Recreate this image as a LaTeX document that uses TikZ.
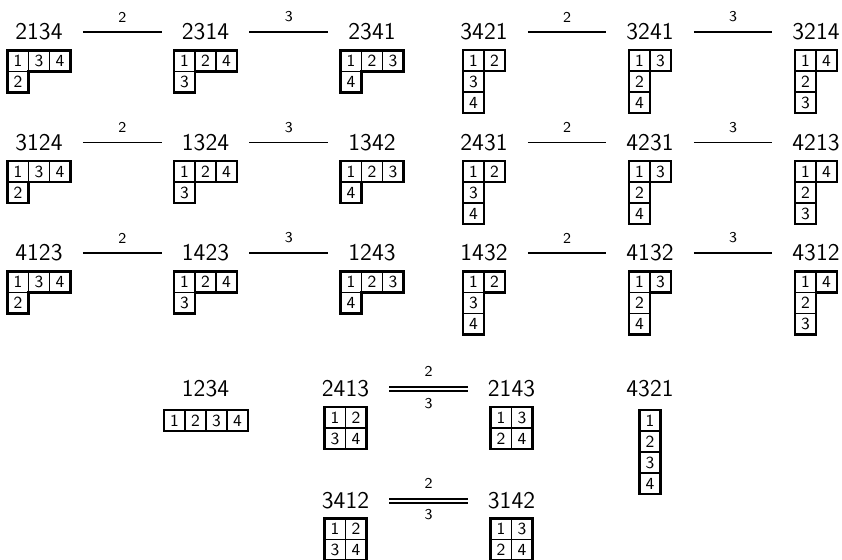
\documentclass[tikz,border=0pt]{standalone}
\tikzset{
  lab/.style={font=\sffamily\fontsize{12}{12}\selectfont, inner xsep=10pt, inner ysep=0pt},
  ycell/.style={draw, line width=0.7pt, minimum width=10.5pt, minimum height=10.5pt, inner sep=0pt, font=\sffamily\fontsize{8.5}{8.5}\selectfont},
  yout/.style={line width=1.3pt, line join=miter},
  edge/.style={line width=0.95pt},
  dedge/.style={line width=0.65pt, double, double distance=1.4pt},
  elab/.style={font=\sffamily\fontsize{7.5}{7.5}\selectfont, inner sep=0pt},
  pics/tA/.style n args={4}{code={
    \node[ycell] (-a) at (10.5,10.5) {#1};
    \node[ycell] (-b) at (31.5,10.5) {#2};
    \node[ycell] (-c) at (52.5,10.5) {#3};
    \node[ycell] (-d) at (10.5,31.5) {#4};
    \draw[yout] (0,0) -- (63,0) -- (63,21) -- (21,21) -- (21,42) -- (0,42) -- cycle;
  }},
  pics/tB/.style n args={4}{code={
    \node[ycell] (-a) at (10.5,10.5) {#1};
    \node[ycell] (-b) at (31.5,10.5) {#2};
    \node[ycell] (-c) at (10.5,31.5) {#3};
    \node[ycell] (-d) at (10.5,52.5) {#4};
    \draw[yout] (0,0) -- (42,0) -- (42,21) -- (21,21) -- (21,63) -- (0,63) -- cycle;
  }},
  pics/tC/.style n args={4}{code={
    \node[ycell] (-a) at (10.5,10.5) {#1};
    \node[ycell] (-b) at (31.5,10.5) {#2};
    \node[ycell] (-c) at (52.5,10.5) {#3};
    \node[ycell] (-d) at (73.5,10.5) {#4};
    \draw[yout] (0,0) rectangle (84,21);
  }},
  pics/tD/.style n args={4}{code={
    \node[ycell] (-a) at (10.5,10.5) {#1};
    \node[ycell] (-b) at (10.5,31.5) {#2};
    \node[ycell] (-c) at (10.5,52.5) {#3};
    \node[ycell] (-d) at (10.5,73.5) {#4};
    \draw[yout] (0,0) rectangle (21,84);
  }},
  pics/tE/.style n args={4}{code={
    \node[ycell] (-a) at (10.5,10.5) {#1};
    \node[ycell] (-b) at (31.5,10.5) {#2};
    \node[ycell] (-c) at (10.5,31.5) {#3};
    \node[ycell] (-d) at (31.5,31.5) {#4};
    \draw[yout] (0,0) rectangle (42,42);
  }},
}
\begin{document}
\begin{tikzpicture}[x=0.5pt, y=-0.5pt]
\useasboundingbox (0,0) rectangle (842,559);

% ---------- left block ----------
% row 1
\node[lab] (p2134) at (39,32) {2134};
\node[lab] (p2314) at (205.5,32) {2314};
\node[lab] (p2341) at (372,32) {2341};
\pic (t2134) at (7.5,50.5) {tA={1}{3}{4}{2}};
\pic (t2314) at (174,50.5) {tA={1}{2}{4}{3}};
\pic (t2341) at (340.5,50.5) {tA={1}{2}{3}{4}};
\draw[edge] (p2134) -- node[elab, yshift=7.5pt] {2} (p2314);
\draw[edge] (p2314) -- node[elab, yshift=7.5pt] {3} (p2341);
% row 2
\node[lab] (p3124) at (39,142.5) {3124};
\node[lab] (p1324) at (205.5,142.5) {1324};
\node[lab] (p1342) at (372,142.5) {1342};
\pic (t3124) at (7.5,161) {tA={1}{3}{4}{2}};
\pic (t1324) at (174,161) {tA={1}{2}{4}{3}};
\pic (t1342) at (340.5,161) {tA={1}{2}{3}{4}};
\draw[edge] (p3124) -- node[elab, yshift=7.5pt] {2} (p1324);
\draw[edge] (p1324) -- node[elab, yshift=7.5pt] {3} (p1342);
% row 3
\node[lab] (p4123) at (39,253) {4123};
\node[lab] (p1423) at (205.5,253) {1423};
\node[lab] (p1243) at (372,253) {1243};
\pic (t4123) at (7.5,271.5) {tA={1}{3}{4}{2}};
\pic (t1423) at (174,271.5) {tA={1}{2}{4}{3}};
\pic (t1243) at (340.5,271.5) {tA={1}{2}{3}{4}};
\draw[edge] (p4123) -- node[elab, yshift=7.5pt] {2} (p1423);
\draw[edge] (p1423) -- node[elab, yshift=7.5pt] {3} (p1243);

% ---------- right block ----------
% row 1
\node[lab] (p3421) at (484,32) {3421};
\node[lab] (p3241) at (650,32) {3241};
\node[lab] (p3214) at (816,32) {3214};
\pic (t3421) at (463,50) {tB={1}{2}{3}{4}};
\pic (t3241) at (629,50) {tB={1}{3}{2}{4}};
\pic (t3214) at (795,50) {tB={1}{4}{2}{3}};
\draw[edge] (p3421) -- node[elab, yshift=7.5pt] {2} (p3241);
\draw[edge] (p3241) -- node[elab, yshift=7.5pt] {3} (p3214);
% row 2
\node[lab] (p2431) at (484,142.5) {2431};
\node[lab] (p4231) at (650,142.5) {4231};
\node[lab] (p4213) at (816,142.5) {4213};
\pic (t2431) at (463,161) {tB={1}{2}{3}{4}};
\pic (t4231) at (629,161) {tB={1}{3}{2}{4}};
\pic (t4213) at (795,161) {tB={1}{4}{2}{3}};
\draw[edge] (p2431) -- node[elab, yshift=7.5pt] {2} (p4231);
\draw[edge] (p4231) -- node[elab, yshift=7.5pt] {3} (p4213);
% row 3
\node[lab] (p1432) at (484,253) {1432};
\node[lab] (p4132) at (650,253) {4132};
\node[lab] (p4312) at (816,253) {4312};
\pic (t1432) at (463,271.5) {tB={1}{2}{3}{4}};
\pic (t4132) at (629,271.5) {tB={1}{3}{2}{4}};
\pic (t4312) at (795,271.5) {tB={1}{4}{2}{3}};
\draw[edge] (p1432) -- node[elab, yshift=7.5pt] {2} (p4132);
\draw[edge] (p4132) -- node[elab, yshift=7.5pt] {3} (p4312);

% ---------- bottom ----------
\node[lab] (p1234) at (205.5,389) {1234};
\pic (t1234) at (164,410) {tC={1}{2}{3}{4}};

\node[lab] (p2413) at (345.5,389) {2413};
\node[lab] (p2143) at (511.5,389) {2143};
\pic (t2413) at (324.5,407) {tE={1}{2}{3}{4}};
\pic (t2143) at (490.5,407) {tE={1}{3}{2}{4}};
\draw[dedge] (p2413) -- node[elab, yshift=9pt] {2} node[elab, yshift=-7.5pt] {3} (p2143);

\node[lab] (p4321) at (650,389) {4321};
\pic (t4321) at (639.5,410) {tD={1}{2}{3}{4}};

\node[lab] (p3412) at (345.5,501) {3412};
\node[lab] (p3142) at (511.5,501) {3142};
\pic (t3412) at (324.5,518.5) {tE={1}{2}{3}{4}};
\pic (t3142) at (490.5,518.5) {tE={1}{3}{2}{4}};
\draw[dedge] (p3412) -- node[elab, yshift=9pt] {2} node[elab, yshift=-7pt] {3} (p3142);
\end{tikzpicture}
\end{document}
